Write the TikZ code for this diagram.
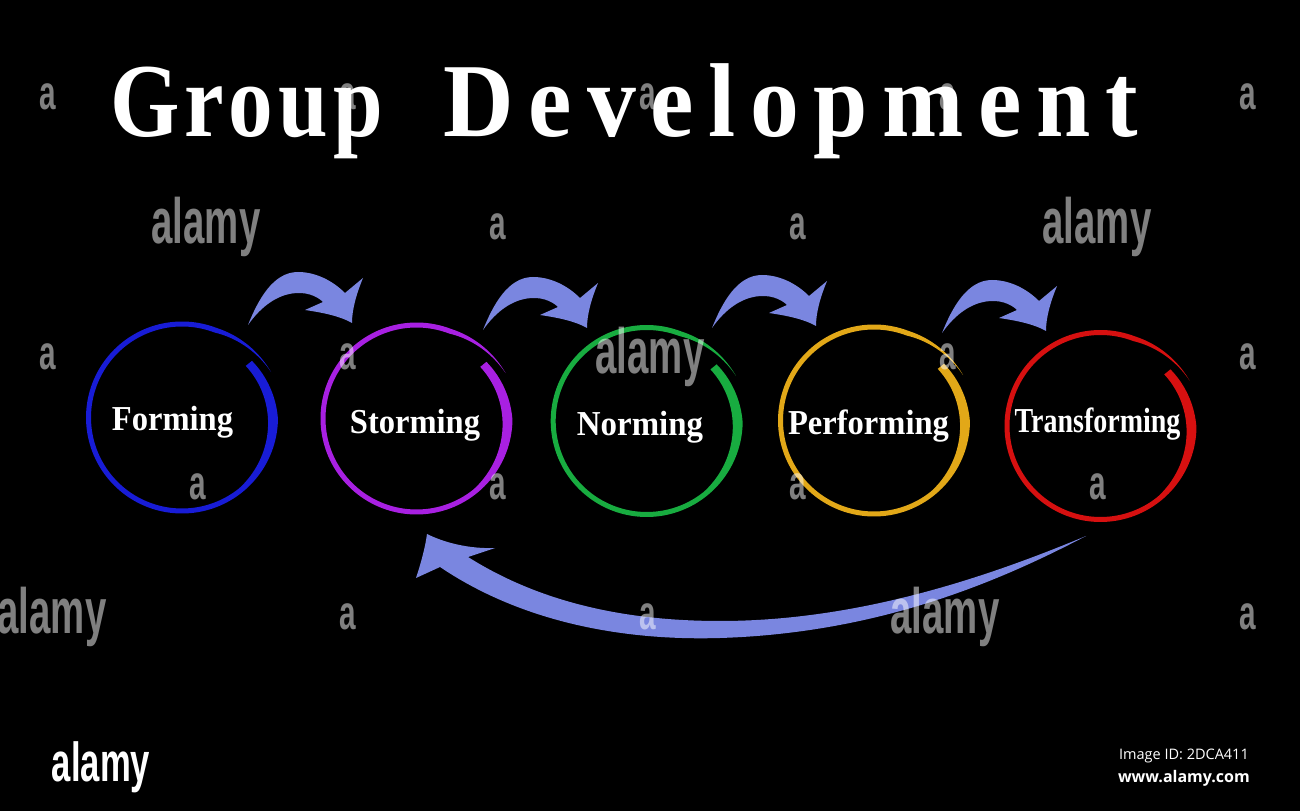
\documentclass[tikz,border=0pt]{standalone}
\usepackage{graphicx}
\usepackage{fontspec}
\setmainfont{Liberation Serif}
\newfontfamily\titleA[LetterSpace=6]{Liberation Serif}
\newfontfamily\titleB[LetterSpace=15]{Liberation Serif}
\newfontfamily\wmfont{Liberation Sans}
\newfontfamily\idfont{Open Sans}
\definecolor{ringblue}{RGB}{24,28,214}
\definecolor{ringpurple}{RGB}{168,32,226}
\definecolor{ringgreen}{RGB}{24,172,64}
\definecolor{ringgold}{RGB}{226,168,24}
\definecolor{ringred}{RGB}{214,16,16}
\definecolor{arrowblue}{RGB}{122,134,224}
\tikzset{
  stage/.style={text=white, font=\bfseries\fontsize{35}{40}\selectfont, anchor=base, inner sep=0pt},
  titlestyle/.style={text=white, font=\bfseries\fontsize{105}{110}\selectfont, anchor=base west, inner sep=0pt},
  wm/.style={text=white, text opacity=0.5, font=\wmfont\bfseries\fontsize{48}{50}\selectfont, inner sep=0pt},
  wmbig/.style={wm, font=\wmfont\bfseries\fontsize{64}{66}\selectfont},
  arrowfill/.style={fill=arrowblue}
}
\newcommand\stagering[3]{%
  \coordinate (#1) at #2;
  \begin{scope}[shift={#2}]
    \fill[#3] plot[domain=0:372,samples=170,variable=\t]
      ({39-\t}:{96-6*max(0,1-\t/40)+4*max(0,(\t-330)/42)})
      -- plot[domain=372:0,samples=170,variable=\t]
      ({39-\t}:{91-9*max(0,1-\t/90)+9*max(0,(\t-330)/42)}) -- cycle;
  \end{scope}}
\newcommand\stepcurve[2]{%
  \coordinate (#1) at #2;
  \fill[arrowfill, shift={#2}] (0,0) .. controls (10,25) and (25,53) .. (50,53)
    .. controls (68,53) and (85,44) .. (97,32) -- (115,47)
    .. controls (108,30) and (104,15) .. (104,2)
    .. controls (90,10) and (70,13) .. (57,15) -- (75,23)
    .. controls (62,36) and (28,40) .. (0,0) -- cycle;}
\begin{document}
\begin{tikzpicture}[x=1pt,y=1pt]
\fill[black] (0,0) rectangle (1300,811);
\useasboundingbox (0,0) rectangle (1300,811);

% title
\node[titlestyle] (title) at (110,674) {\scalebox{0.85}[1]{\titleA\bfseries Group}\hspace{61pt}\scalebox{0.93}[1]{\titleB\bfseries Development}};

% rings
\stagering{cform}{(182,393.5)}{ringblue}
\stagering{cstorm}{(416.5,392.5)}{ringpurple}
\stagering{cnorm}{(646.7,390)}{ringgreen}
\stagering{cperf}{(874,390.5)}{ringgold}
\stagering{ctrans}{(1100.5,385)}{ringred}

% labels
\node[stage] (forming) at (172.5,380) {\scalebox{0.93}[1]{Forming}};
\node[stage] (storming) at (415,377) {\scalebox{0.93}[1]{Storming}};
\node[stage] (norming) at (640,375) {\scalebox{0.94}[1]{Norming}};
\node[stage] (performing) at (868.5,376) {\scalebox{0.93}[1]{Performing}};
\node[stage] (transforming) at (1097.5,378) {\scalebox{0.80}[1]{Transforming}};

% small arrows
\stepcurve{a1}{(248,486)}
\stepcurve{a2}{(483,481)}
\stepcurve{a3}{(712,483)}
\stepcurve{a4}{(942,478)}

% big return arrow
\coordinate (rtail) at (1086,275);
\coordinate (rtip) at (427,277);
\fill[arrowfill] (440,244) .. controls (520,190) and (620,170) .. (720,173)
  .. controls (880,178) and (1000,230) .. (rtail)
  .. controls (990,235) and (860,190) .. (720,190)
  .. controls (610,190) and (530,215) .. (468,254)
  -- (495,263) .. controls (470,262) and (445,268) .. (rtip)
  .. controls (425,262) and (420,245) .. (416,233) -- cycle;

% watermarks
\foreach \px/\py [count=\i] in {48/714,348/714,648/714,948/714,1248/714,
  498/584,798/584,48/454,348/454,948/454,1248/454,
  198/324,498/324,798/324,1098/324,348/194,648/194,1248/194}
  \node[wm] (wma\i) at (\px,\py) {\scalebox{0.62}[1]{a}};
\foreach \px/\py [count=\i] in {206/584,1097/584,650/454,52/194,945/194}
  \node[wmbig] (wmb\i) at (\px,\py) {\scalebox{0.6}[1]{alamy}};

% bottom stamp
\node[text=white, anchor=base, inner sep=0pt, font=\wmfont\bfseries\fontsize{55}{60}\selectfont] (logo) at (101,30) {\scalebox{0.63}[1]{alamy}};
\node[text=white, anchor=base east, inner sep=0pt, font=\idfont\fontsize{14.5}{16}\selectfont] (imgid) at (1249,52) {Image ID: 2DCA411};
\node[text=white, anchor=base east, inner sep=0pt, font=\idfont\bfseries\fontsize{16}{18}\selectfont] (site) at (1250,29) {www.alamy.com};
\end{tikzpicture}
\end{document}
